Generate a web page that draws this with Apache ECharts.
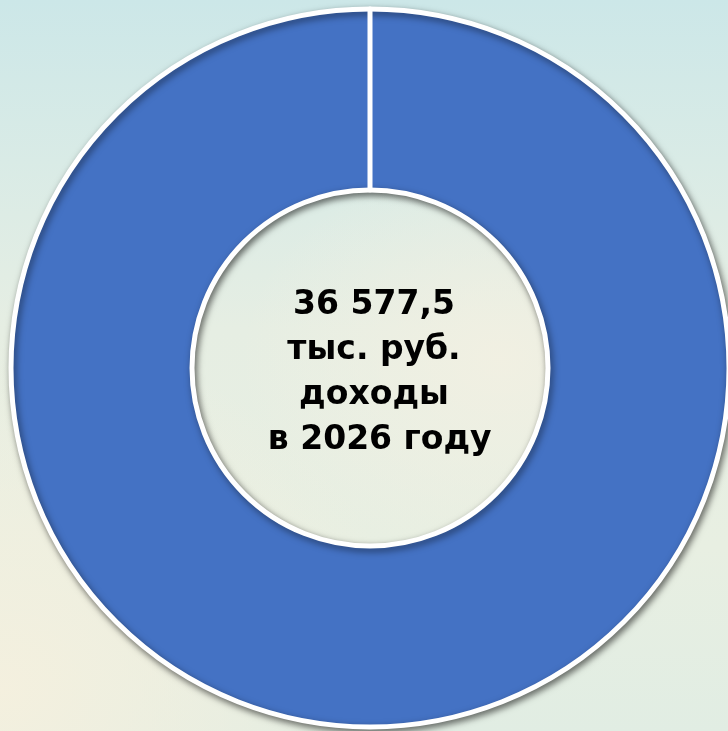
<!DOCTYPE html>
<html>
<head>
<meta charset="utf-8">
<script src="https://cdn.jsdelivr.net/npm/echarts@6/dist/echarts.min.js"></script>
<style>
  html, body { margin: 0; padding: 0; }
  body {
    width: 728px; height: 731px; overflow: hidden;
    background:
      radial-gradient(ellipse 260px 200px at 500px 360px, rgba(242,240,226,0.9), rgba(242,240,226,0) 100%),
      radial-gradient(ellipse 420px 360px at 0px 690px, rgba(245,240,222,0.95), rgba(245,240,222,0) 100%),
      linear-gradient(180deg, #cce7e8 0%, #d9ebe6 22%, #e6eee3 45%, #e8efe2 75%, #e1ede3 100%);
  }
  #main { width: 728px; height: 731px; }
</style>
</head>
<body>
<div id="main"></div>
<script>
// данные диаграммы
const names = ['Доходы', 'Прочее'];
const values = [36577.5, 0];
const centerText = '36 577,5\nтыс. руб.\nдоходы\n в 2026 году';

const chart = echarts.init(document.getElementById('main'));

const data = names.map(function (n, i) {
  const item = { name: n, value: values[i] };
  if (i === 0) {
    item.label = {
      show: true,
      position: 'center',
      formatter: centerText
    };
  } else {
    item.label = { show: false };
    item.itemStyle = { shadowBlur: 0, shadowOffsetX: 0, shadowOffsetY: 0 };
  }
  return item;
});

chart.setOption({
  backgroundColor: 'transparent',
  animation: false,
  series: [
    {
      type: 'pie',
      center: [370, 368],
      radius: [178, 359],
      startAngle: 90,
      clockwise: true,
      silent: true,
      color: ['#4472c4', '#ed7d31'],
      itemStyle: {
        borderColor: '#ffffff',
        borderWidth: 5,
        shadowColor: 'rgba(0,0,0,0.5)',
        shadowBlur: 7,
        shadowOffsetX: 2,
        shadowOffsetY: 3
      },
      label: {
        color: '#000000',
        fontFamily: 'DejaVu Sans',
        fontWeight: 'bold',
        fontSize: 33,
        lineHeight: 45,
        offset: [4, 5]
      },
      labelLine: { show: false },
      data: data
    }
  ]
});
</script>
</body>
</html>
